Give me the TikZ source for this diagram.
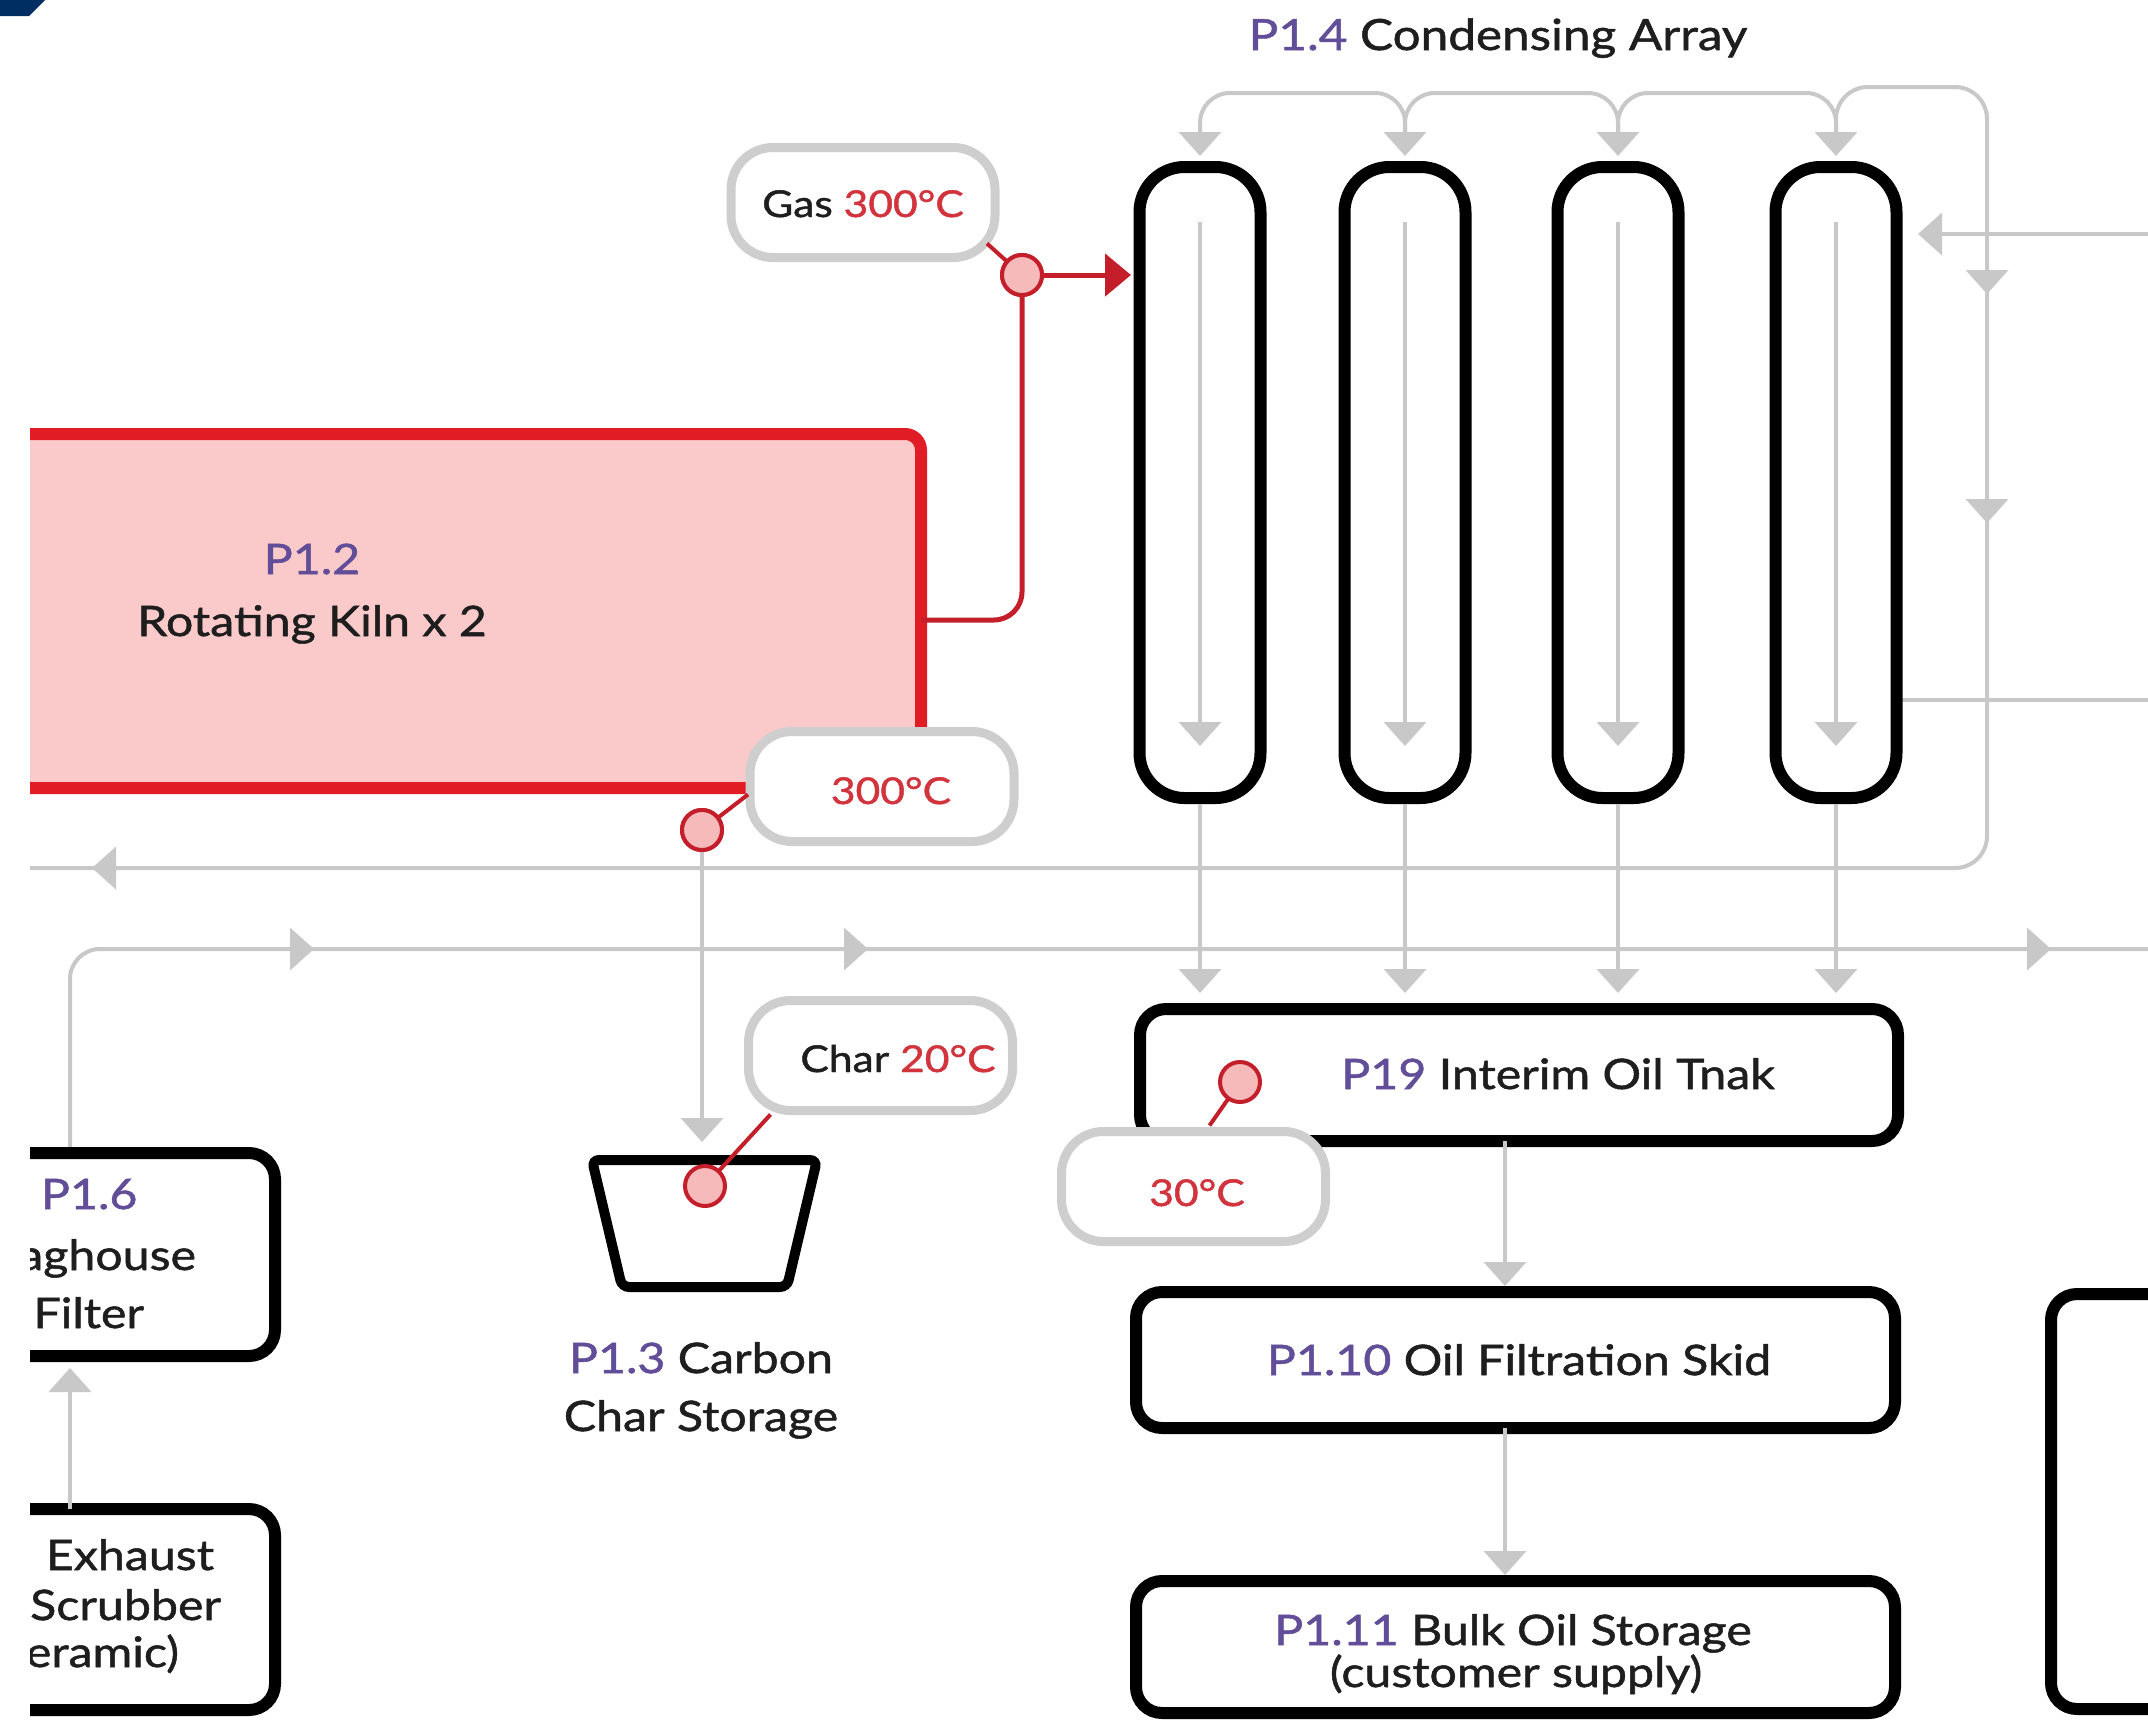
\documentclass[tikz,border=0pt]{standalone}
\usepackage{fontspec}
\setmainfont{Lato}[FakeStretch=1.15, FakeBold=1.2]
\usetikzlibrary{arrows.meta}
\definecolor{navy}{RGB}{0,45,98}
\definecolor{kilnred}{RGB}{226,28,36}
\definecolor{kilnfill}{RGB}{250,202,202}
\definecolor{pipered}{RGB}{196,30,42}
\definecolor{gaugefill}{RGB}{246,186,186}
\definecolor{pipegray}{RGB}{200,200,200}
\definecolor{lblgray}{RGB}{206,206,206}
\definecolor{pcol}{RGB}{98,78,152}
\definecolor{txtred}{RGB}{210,52,62}
\definecolor{txtblack}{RGB}{30,30,30}
\tikzset{
  every node/.style={inner sep=0pt, outer sep=0pt},
  flow/.style={draw=pipegray, line width=4pt},
  gtip/.style={-{Triangle[length=24pt,width=42pt]}},
  box/.style={draw=black, line width=12pt, rounded corners=26pt, fill=white},
  tube/.style={draw=black, line width=12pt, rounded corners=45pt, fill=white, minimum width=121pt, minimum height=631pt},
  tag/.style={draw=lblgray, line width=9pt, fill=white, rounded corners=42pt, minimum width=264pt, minimum height=110pt},
  gauge/.style={circle, draw=pipered, line width=4pt, fill=gaugefill, minimum size=40pt},
  redline/.style={draw=pipered, line width=4pt},
  txt/.style={font=\fontsize{42}{50}\selectfont, text=txtblack},
  lbltxt/.style={font=\fontsize{37}{44}\selectfont, text=txtblack},
}
\begin{document}
\begin{tikzpicture}[x=1pt, y=-1pt]
\useasboundingbox (0,0) rectangle (2148,1722);
\begin{scope}
\clip (30,0) rectangle (2148,1722);

% ---------- coordinates ----------
\coordinate (vx) at (70,0);
\coordinate (tanktop) at (0,993);
\coordinate (kout) at (921,620);

% ---------- gray flow lines (behind) ----------
\draw[flow, gtip, rounded corners=30pt] (1405,132) -- (1405,93) -- (1200,93) -- (1200,156);
\draw[flow, gtip, rounded corners=30pt] (1618,132) -- (1618,93) -- (1405,93) -- (1405,156);
\draw[flow, gtip, rounded corners=30pt] (1836,132) -- (1836,93) -- (1618,93) -- (1618,156);
\draw[flow, gtip] (1836,132) -- (1836,156);
\draw[flow, rounded corners=32pt] (1836,132) -- (1836,87) -- (1987,87) -- (1987,868) -- (20,868);
\draw[flow, gtip] (1987,268) -- (1987,294);
\draw[flow, gtip] (1987,497) -- (1987,523);
\draw[flow, gtip] (118,868) -- (92,868);
\draw[flow, gtip] (2160,234) -- (1918,234);
\draw[flow] (1890,700) -- (2160,700);
\draw[flow, rounded corners=30pt] (70,1160) -- (70,949) -- (2160,949);
\draw[flow, gtip] (290,949) -- (314,949);
\draw[flow, gtip] (844,949) -- (868,949);
\draw[flow, gtip] (2027,949) -- (2051,949);

% ---------- kiln ----------
\node[draw=kilnred, fill=kilnfill, line width=12pt, rounded corners=16pt,
      minimum width=921pt, minimum height=354pt] (kiln) at (460.5,611) {};
\node[txt, anchor=base] (kilnid) at (312,574) {\textcolor{pcol}{P1.2}};
\node[txt, anchor=base] (kilnname) at (312,636) {Rotating Kiln x 2};

% ---------- gauges ----------
\node[gauge] (gasg) at (1022,275) {};
\node[gauge] (kilng) at (702,830) {};
\node[gauge] (charg) at (705,1186) {};
\node[gauge] (tankg) at (1240,1082) {};

% ---------- tubes ----------
\node[tube] (tube1) at (1200,482.5) {};
\node[tube] (tube2) at (1405,482.5) {};
\node[tube] (tube3) at (1618,482.5) {};
\node[tube] (tube4) at (1836,482.5) {};
\foreach \t in {tube1,tube2,tube3,tube4}{
  \draw[flow, gtip] ([yshift=-55pt]\t.north) -- ([yshift=52pt]\t.south);
  \draw[flow, gtip] ([yshift=-6pt]\t.south) -- (\t.south |- tanktop);
}
\node[txt, anchor=base, font=\fontsize{43}{50}\selectfont] (condtitle) at (1498,50)
  {\textcolor{pcol}{P1.4} Condensing Array};

\draw[flow, gtip] (kilng.south) -- (702,1142);
\coordinate (colx) at (1505,0);

% ---------- boxes ----------
\node[box, minimum width=758pt, minimum height=132pt] (tank) at (1519,1075) {};
\node[box, minimum width=759pt, minimum height=136pt] (skid) at (1515.5,1360) {};
\node[box, minimum width=759pt, minimum height=132pt] (bulk) at (1515.5,1647) {};
\draw[flow, gtip] (tank.south -| colx) -- ([yshift=6pt]skid.north -| colx);
\draw[flow, gtip] (skid.south -| colx) -- ([yshift=6pt]bulk.north -| colx);
\node[txt, anchor=base] (tanktxt) at (1558,1089) {\textcolor{pcol}{P19} Interim Oil Tnak};
\node[txt, anchor=base] (skidtxt) at (1519,1375) {\textcolor{pcol}{P1.10} Oil Filtration Skid};
\node[txt, anchor=base] (bulktxt1) at (1513,1645) {\textcolor{pcol}{P1.11} Bulk Oil Storage};
\node[txt, anchor=base] (bulktxt2) at (1516,1687) {(customer supply)};

\node[box, minimum width=375pt, minimum height=203pt] (bag) at (87.5,1254.5) {};
\node[box, minimum width=375pt, minimum height=201pt] (scrub) at (87.5,1609.5) {};
\node[box, minimum width=300pt, minimum height=415pt] (rbox) at (2201,1501.5) {};
\draw[flow, gtip] (scrub.north -| vx) -- ([yshift=-12pt]bag.south -| vx);
\node[txt, anchor=base west] (bagid) at (41,1209) {\textcolor{pcol}{P1.6}};
\node[txt, anchor=base east] (bag2) at (196,1270) {Baghouse};
\node[txt, anchor=base east] (bag3) at (144,1328) {Filter};
\node[txt, anchor=base east] (scr1) at (214,1570) {Exhaust};
\node[txt, anchor=base east] (scr2) at (221,1620) {Scrubber};
\node[txt, anchor=base east] (scr3) at (179,1667) {(Ceramic)};

% char storage
\draw[black, line width=10pt, rounded corners=7pt, fill=white]
  (592,1160) -- (817,1160) -- (787,1287) -- (622,1287) -- cycle;
\coordinate (charbin) at (705,1160);
\node[txt, anchor=base] (chartxt1) at (701,1373) {\textcolor{pcol}{P1.3} Carbon};
\node[txt, anchor=base] (chartxt2) at (701,1431) {Char Storage};

% ---------- red pipe ----------
\draw[pipered, line width=5pt, rounded corners=28pt] (kout) -- (gasg.south |- kout) -- (gasg.south);
\draw[pipered, line width=5pt, -{Triangle[length=26pt,width=42pt]}] (gasg.east) -- (1131,275);

% ---------- labels ----------
\node[tag] (gastag) at (863,202.5) {};
\node[tag] (kilntag) at (882,786.5) {};
\node[tag] (chartag) at (880.5,1055.5) {};
\node[tag] (tanktag) at (1193.5,1186.5) {};
\draw[redline] ([xshift=-8pt,yshift=14pt]gastag.south east) -- (gasg.center);
\draw[redline] ([xshift=-2pt,yshift=-8pt]kilntag.west) -- (kilng.center);
\draw[redline] ([xshift=22pt,yshift=-4pt]chartag.south west) -- (charg.center);
\draw[redline] ([xshift=148pt,yshift=6pt]tanktag.north west) -- (tankg.center);
\node[gauge] at (gasg) {};
\node[gauge] at (kilng) {};
\node[gauge] at (charg) {};
\node[gauge] at (tankg) {};
\node[lbltxt, anchor=base] (gastxt) at (863,217) {Gas \textcolor{txtred}{300°C}};
\node[lbltxt, anchor=base] (kilntxt) at (891,804) {\textcolor{txtred}{300°C}};
\node[lbltxt, anchor=base] (chartxt) at (898,1072) {Char \textcolor{txtred}{20°C}};
\node[lbltxt, anchor=base] (tanktxt2) at (1197,1206) {\textcolor{txtred}{30°C}};
\end{scope}

\fill[navy] (0,0) -- (45,0) -- (29,16) -- (0,16) -- cycle;
\end{tikzpicture}
\end{document}
